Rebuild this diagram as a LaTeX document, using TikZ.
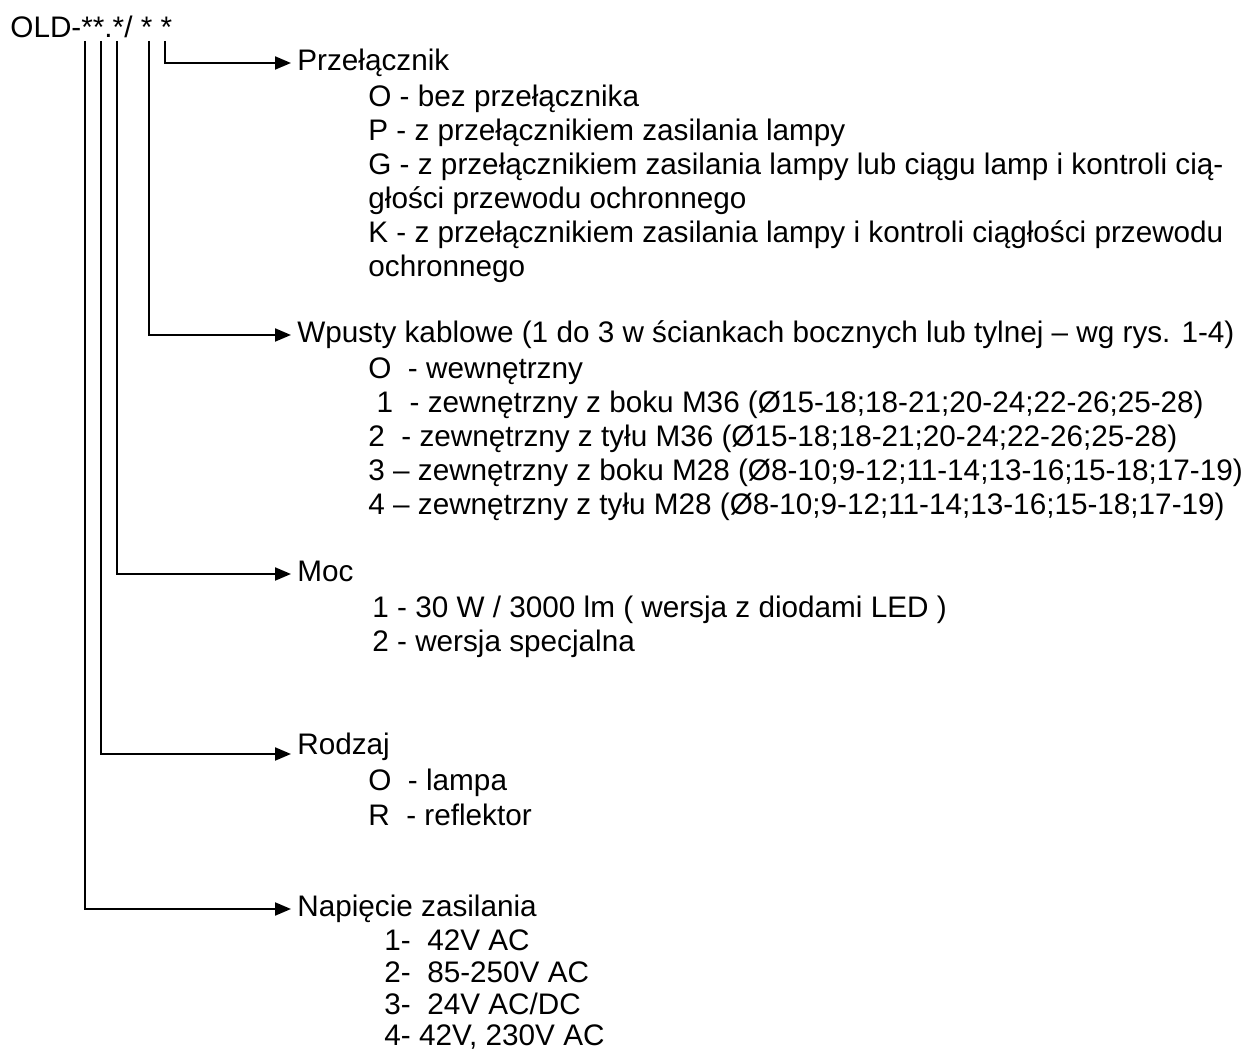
\documentclass[tikz,border=0pt]{standalone}
\usepackage{fontspec}
\setmainfont{Liberation Sans}
\usetikzlibrary{arrows.meta}

\begin{document}
\begin{tikzpicture}[x=0.5pt,y=-0.5pt,
    font=\fontsize{14.85pt}{17pt}\selectfont,
    stem/.style={line width=1pt},
    lead/.style={line width=1pt,-{Triangle[length=8pt,width=6.5pt]}},
    head/.style={anchor=west,inner xsep=3pt,inner ysep=0pt,text height=0.72em,text depth=0pt},
    item/.style={anchor=base west,inner sep=0pt}]
\useasboundingbox (0,0) rectangle (1242,1052);

\node[item] (code) at (10,38) {OLD-**.*/ * *};
\coordinate (t1) at (85,41);
\coordinate (t2) at (101,41);
\coordinate (t3) at (117,41);
\coordinate (t4) at (149,41);
\coordinate (t5) at (165,41);

\node[head] (przel) at (291,63) {Przełącznik};
\node[item] (p1) at (368,107) {O - bez przełącznika};
\node[item] (p2) at (368,141) {P - z przełącznikiem zasilania lampy};
\node[item] (p3) at (368,175) {G - z przełącznikiem zasilania lampy lub ciągu lamp i kontroli cią-};
\node[item] (p4) at (368,209) {głości przewodu ochronnego};
\node[item] (p5) at (368,243) {K - z przełącznikiem zasilania lampy i kontroli ciągłości przewodu};
\node[item] (p6) at (368,277) {ochronnego};
\draw[lead] (t5) |- (przel.west);

\node[head] (wpust) at (291,335) {Wpusty kablowe (1 do 3 w ściankach bocznych lub tylnej – wg rys. 1-4)};
\node[item] (w1) at (368,379) {O~ - wewnętrzny};
\node[item] (w2) at (368,413) {\ 1~ - zewnętrzny z boku M36 (Ø15-18;18-21;20-24;22-26;25-28)};
\node[item] (w3) at (368,447) {2~ - zewnętrzny z tyłu M36 (Ø15-18;18-21;20-24;22-26;25-28)};
\node[item] (w4) at (368,481) {3 – zewnętrzny z boku M28 (Ø8-10;9-12;11-14;13-16;15-18;17-19)};
\node[item] (w5) at (368,515) {4 – zewnętrzny z tyłu M28 (Ø8-10;9-12;11-14;13-16;15-18;17-19)};
\draw[lead] (t4) |- (wpust.west);

\node[head] (moc) at (291,574) {Moc};
\node[item] (m1) at (372,618) {1 - 30 W / 3000 lm ( wersja z diodami LED )};
\node[item] (m2) at (372,652) {2 - wersja specjalna};
\draw[lead] (t3) |- (moc.west);

\node[head] (rodz) at (291,747) {Rodzaj};
\node[item] (r1) at (368,791) {O~ - lampa};
\node[item] (r2) at (368,825) {R~ - reflektor};
\draw[lead] (t2) |- ([yshift=-3.5pt]rodz.west);

\node[head] (napi) at (291,909) {Napięcie zasilania};
\node[item] (n1) at (384,950) {1-~ 42V AC};
\node[item] (n2) at (384,982) {2-~ 85-250V AC};
\node[item] (n3) at (384,1014) {3-~ 24V AC/DC};
\node[item] (n4) at (384,1045) {4- 42V, 230V AC};
\draw[lead] (t1) |- (napi.west);
\end{tikzpicture}
\end{document}
